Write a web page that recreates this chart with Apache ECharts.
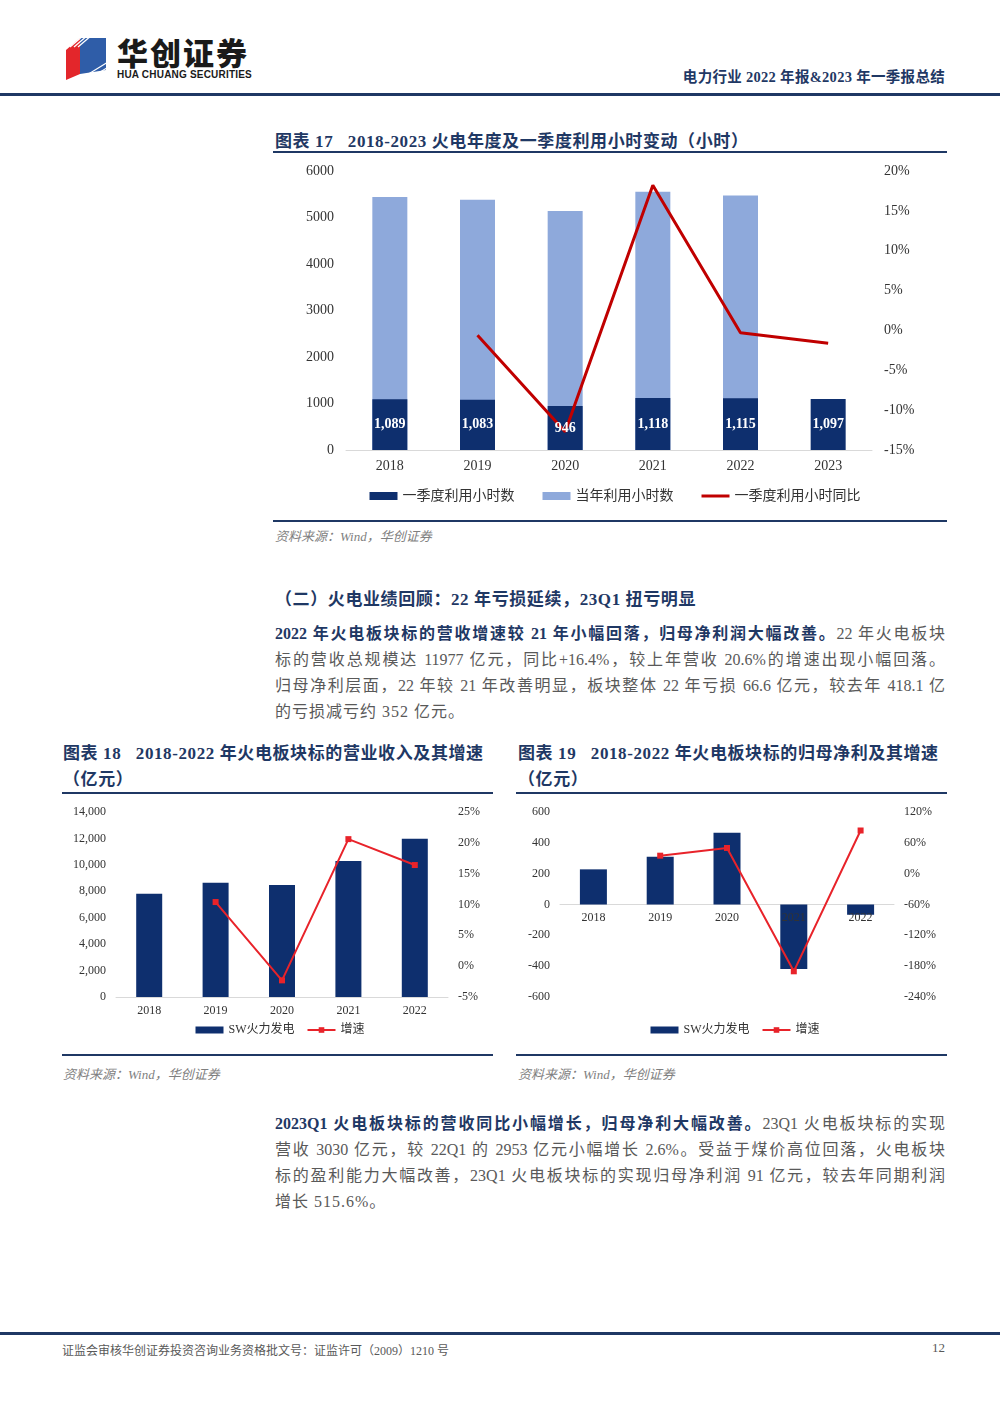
<!DOCTYPE html>
<html><head><meta charset="utf-8">
<script src="https://cdn.jsdelivr.net/npm/echarts@6/dist/echarts.min.js"></script>
<style>
html,body{margin:0;padding:0;background:#fff;}
body{width:1000px;height:1414px;position:relative;overflow:hidden;font-family:"Liberation Serif","Noto Sans CJK SC",serif;}
.abs{position:absolute;}
.hline{position:absolute;background:#1F3864;}
.title{position:absolute;font-weight:bold;color:#1F3864;font-size:17px;letter-spacing:0.6px;white-space:nowrap;}
.src{position:absolute;font-style:italic;color:#7F7F7F;font-size:13px;white-space:nowrap;}
.para{position:absolute;left:275px;width:670px;font-size:16px;color:#595959;}
.para div{height:26px;line-height:26px;text-align:justify;text-align-last:justify;white-space:nowrap;}
.para div.last{text-align-last:left;letter-spacing:1px;}
.para b{color:#1F3864;}
</style></head>
<body>
<!-- header -->
<svg class="abs" style="left:62px;top:34px" width="50" height="50" viewBox="0 0 50 50">
  <polygon points="4,16 18,4 18,40 4,46" fill="#E3262B"/>
  <polygon points="18,4 44,4 44,36 18,40" fill="#2F5DA8"/>
  <g stroke="#fff" stroke-width="1.3">
    <line x1="8" y1="13" x2="22" y2="1"/><line x1="12" y1="13" x2="26" y2="1"/><line x1="16" y1="13" x2="30" y2="1"/>
    <line x1="20" y1="44" x2="46" y2="28"/><line x1="22" y1="48" x2="48" y2="32"/><line x1="26" y1="50" x2="50" y2="36"/>
  </g>
</svg>
<div class="abs" style="left:117px;top:34px;font-family:'Noto Sans CJK SC';font-weight:900;font-size:31px;color:#1a1a1a;letter-spacing:2px;line-height:36px">华创证券</div>
<div class="abs" style="left:117px;top:69px;font-family:'Liberation Sans';font-weight:bold;font-size:10px;color:#1a1a1a;line-height:12px;letter-spacing:0.2px">HUA CHUANG SECURITIES</div>
<div class="abs" style="right:55px;top:68px;font-weight:bold;font-size:14.5px;letter-spacing:0.3px;color:#1F3864;white-space:nowrap;line-height:18px">电力行业 2022 年报&amp;2023 年一季报总结</div>
<div class="hline" style="left:0;top:93px;width:1000px;height:3px;"></div>

<!-- chart 17 -->
<div class="title" style="left:275px;top:127px;">图表 17&nbsp;&nbsp;&nbsp;2018-2023 火电年度及一季度利用小时变动（小时）</div>
<div class="hline" style="left:273px;top:151px;width:674px;height:2px;"></div>
<div id="c17" class="abs" style="left:270px;top:160px;width:690px;height:350px;"></div>
<div class="hline" style="left:273px;top:520px;width:674px;height:2px;"></div>
<div class="src" style="left:275px;top:526px;">资料来源：Wind，华创证券</div>

<div class="title" style="left:275px;top:585px;">（二）火电业绩回顾：22 年亏损延续，23Q1 扭亏明显</div>
<div class="para" style="top:621px;">
<div><b>2022 年火电板块标的营收增速较 21 年小幅回落，归母净利润大幅改善。</b>22 年火电板块</div>
<div>标的营收总规模达 11977 亿元，同比+16.4%，较上年营收 20.6%的增速出现小幅回落。</div>
<div>归母净利层面，22 年较 21 年改善明显，板块整体 22 年亏损 66.6 亿元，较去年 418.1 亿</div>
<div class="last">的亏损减亏约 352 亿元。</div>
</div>

<!-- chart 18 -->
<div class="title" style="left:63px;top:741px;line-height:26px;">图表 18&nbsp;&nbsp;&nbsp;2018-2022 年火电板块标的营业收入及其增速<br>（亿元）</div>
<div class="hline" style="left:62px;top:792px;width:431px;height:2px;"></div>
<div id="c18" class="abs" style="left:60px;top:800px;width:440px;height:250px;"></div>
<div class="hline" style="left:62px;top:1054px;width:431px;height:2px;"></div>
<div class="src" style="left:63px;top:1064px;">资料来源：Wind，华创证券</div>

<!-- chart 19 -->
<div class="title" style="left:518px;top:741px;line-height:26px;">图表 19&nbsp;&nbsp;&nbsp;2018-2022 年火电板块标的归母净利及其增速<br>（亿元）</div>
<div class="hline" style="left:516px;top:792px;width:431px;height:2px;"></div>
<div id="c19" class="abs" style="left:510px;top:800px;width:450px;height:250px;"></div>
<div class="hline" style="left:516px;top:1054px;width:431px;height:2px;"></div>
<div class="src" style="left:518px;top:1064px;">资料来源：Wind，华创证券</div>

<div class="para" style="top:1111px;">
<div><b>2023Q1 火电板块标的营收同比小幅增长，归母净利大幅改善。</b>23Q1 火电板块标的实现</div>
<div>营收 3030 亿元，较 22Q1 的 2953 亿元小幅增长 2.6%。受益于煤价高位回落，火电板块</div>
<div>标的盈利能力大幅改善，23Q1 火电板块标的实现归母净利润 91 亿元，较去年同期利润</div>
<div class="last">增长 515.6%。</div>
</div>

<!-- footer -->
<div class="hline" style="left:0;top:1332px;width:1000px;height:3px;"></div>
<div class="abs" style="left:62px;top:1341px;font-size:12px;color:#595959;white-space:nowrap;">证监会审核华创证券投资咨询业务资格批文号：证监许可（2009）1210 号</div>
<div class="abs" style="left:932px;top:1340px;font-size:13px;color:#595959;">12</div>

<script>
// ---- data ----
const years17 = ['2018','2019','2020','2021','2022','2023'];
const annualHours = [5440, 5380, 5140, 5555, 5475, null];
const q1Hours = [1089, 1083, 946, 1118, 1115, 1097];
const q1Yoy = [null, -0.6, -12.7, 18.2, -0.3, -1.6];

const years18 = ['2018','2019','2020','2021','2022'];
const revenue = [7820, 8650, 8480, 10290, 11977];
const revenueGrowth = [null, 10.4, -2.3, 20.6, 16.4];

const years19 = ['2018','2019','2020','2021','2022'];
const netProfit = [228, 310, 466, -418.1, -66.6];
const profitGrowth = [null, 35, 50, -190, 84];

const FONT = '"Liberation Serif","Noto Sans CJK SC",serif';
const NAVY = '#0E2F6E';
const LIGHT = '#8EA9DB';
const DARKRED = '#C00000';
const RED = '#E8232A';
const LINE_ICON = 'path://M0,0 L28,0 L28,3 L0,3 Z';

// ---- chart 17 ----
const c17 = echarts.init(document.getElementById('c17'));
c17.setOption({
  animation:false,
  textStyle:{fontFamily:FONT},
  grid:{left:76,right:88,top:11,bottom:60},
  legend:{
    bottom:2,left:'center',itemGap:28,itemWidth:28,itemHeight:8,
    textStyle:{fontSize:14,color:'#333',fontFamily:FONT},
    data:[{name:'一季度利用小时数',icon:'rect'},{name:'当年利用小时数',icon:'rect'},{name:'一季度利用小时同比',icon:LINE_ICON}]
  },
  xAxis:{type:'category',data:years17,
    axisLine:{lineStyle:{color:'#D9D9D9'}},axisTick:{show:false},
    axisLabel:{fontSize:14,color:'#333',margin:9}},
  yAxis:[
    {type:'value',min:0,max:6000,interval:1000,splitLine:{show:false},
     axisLabel:{fontSize:14,color:'#333',margin:12,formatter:v=>String(v)}},
    {type:'value',min:-15,max:20,interval:5,splitLine:{show:false},
     axisLabel:{fontSize:14,color:'#333',margin:12,formatter:'{value}%'}}
  ],
  series:[
    {name:'当年利用小时数',type:'bar',data:annualHours,barWidth:35,barGap:'-100%',
     itemStyle:{color:LIGHT},z:1},
    {name:'一季度利用小时数',type:'bar',data:q1Hours,barWidth:35,barGap:'-100%',
     itemStyle:{color:NAVY},z:2},
    {name:'一季度利用小时同比',type:'line',yAxisIndex:1,data:q1Yoy,showSymbol:false,symbol:'none',
     lineStyle:{color:DARKRED,width:3},itemStyle:{color:DARKRED},z:3},
    {name:'labels',type:'bar',data:q1Hours,barWidth:35,barGap:'-100%',silent:true,
     itemStyle:{color:'rgba(0,0,0,0)'},z:4,
     label:{show:true,position:'inside',color:'#fff',fontWeight:'bold',fontSize:14,fontFamily:FONT,
       formatter:p=>p.value.toLocaleString('en-US')}}
  ]
});

// ---- chart 18 ----
const c18 = echarts.init(document.getElementById('c18'));
c18.setOption({
  animation:false,
  textStyle:{fontFamily:FONT},
  grid:{left:56,right:52,top:12,bottom:53},
  legend:{bottom:9,left:'center',itemGap:12,itemWidth:28,itemHeight:7,
    textStyle:{fontSize:12,color:'#333',fontFamily:FONT},
    data:[{name:'SW火力发电',icon:'rect'},{name:'增速'}]},
  xAxis:{type:'category',data:years18,
    axisLine:{lineStyle:{color:'#D9D9D9'}},axisTick:{show:false},
    axisLabel:{fontSize:12,color:'#333',margin:8}},
  yAxis:[
    {type:'value',min:0,max:14000,interval:2000,splitLine:{show:false},
     axisLabel:{fontSize:12,color:'#333',margin:10,formatter:v=>v.toLocaleString('en-US')}},
    {type:'value',min:-5,max:25,interval:5,splitLine:{show:false},
     axisLabel:{fontSize:12,color:'#333',margin:10,formatter:'{value}%'}}
  ],
  series:[
    {name:'SW火力发电',type:'bar',data:revenue,barWidth:26,itemStyle:{color:NAVY}},
    {name:'增速',type:'line',yAxisIndex:1,data:revenueGrowth,symbol:'rect',symbolSize:6,
     lineStyle:{color:RED,width:2},itemStyle:{color:RED}}
  ]
});

// ---- chart 19 ----
// grid 1 covers the upper half (down to the zero line) only to carry the category labels under the zero line
const c19 = echarts.init(document.getElementById('c19'));
c19.setOption({
  animation:false,
  textStyle:{fontFamily:FONT},
  grid:[{left:50,right:66,top:12,bottom:53},{left:50,right:66,top:12,bottom:145.5}],
  legend:{bottom:9,left:'center',itemGap:12,itemWidth:28,itemHeight:7,
    textStyle:{fontSize:12,color:'#333',fontFamily:FONT},
    data:[{name:'SW火力发电',icon:'rect'},{name:'增速'}]},
  xAxis:[
    {type:'category',data:years19,gridIndex:0,
     axisLine:{onZero:true,lineStyle:{color:'#D9D9D9'}},axisTick:{show:false},axisLabel:{show:false}},
    {type:'category',data:years19,gridIndex:1,z:10,
     axisLine:{show:false},axisTick:{show:false},
     axisLabel:{fontSize:12,color:'#333',margin:7}}
  ],
  yAxis:[
    {type:'value',min:-600,max:600,interval:200,splitLine:{show:false},gridIndex:0,
     axisLabel:{fontSize:12,color:'#333',margin:10}},
    {type:'value',min:-240,max:120,interval:60,splitLine:{show:false},gridIndex:0,
     axisLabel:{fontSize:12,color:'#333',margin:10,formatter:'{value}%'}},
    {type:'value',min:0,max:600,gridIndex:1,show:false}
  ],
  series:[
    {name:'SW火力发电',type:'bar',data:netProfit,barWidth:27,itemStyle:{color:NAVY},z:3},
    {name:'增速',type:'line',yAxisIndex:1,data:profitGrowth,symbol:'rect',symbolSize:6,
     lineStyle:{color:RED,width:2},itemStyle:{color:RED},z:4}
  ]
});
</script>
</body></html>
